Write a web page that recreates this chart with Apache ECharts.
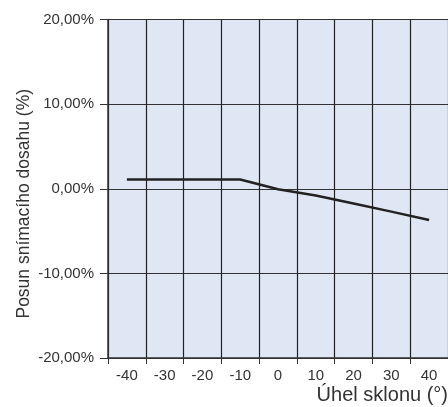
<!DOCTYPE html>
<html>
<head>
<meta charset="utf-8">
<script src="https://cdn.jsdelivr.net/npm/echarts@6/dist/echarts.min.js"></script>
<style>
html,body{margin:0;padding:0;background:#fff;}
#chart{width:448px;height:407px;}
</style>
</head>
<body>
<div id="chart"></div>
<script>
// slope angle categories (deg)
const angles = ['-40', '-30', '-20', '-10', '0', '10', '20', '30', '40']
// shift of sensing distance (%)
const shift = [1.1, 1.1, 1.1, 1.1, -0.05, -0.8, -1.75, -2.7, -3.7]
const yTicks = [-20, -10, 0, 10, 20]

const myChart = echarts.init(document.getElementById('chart'))
const fmt = v => v.toFixed(2).replace('.', ',') + '%'

let option = {
    animation: false,
    textStyle: { fontFamily: 'Liberation Sans' },
    title: {
        text: 'Úhel sklonu (°)',
        right: 0,
        top: 385,
        padding: 0,
        textStyle: { fontSize: 20, fontWeight: 'normal', color: '#333', fontFamily: 'Liberation Sans' }
    },
    grid: { left: 108, right: 0, top: 19.5, bottom: 49, show: true, backgroundColor: '#e0e7f4', borderWidth: 0 },
    xAxis: {
        type: 'category',
        data: angles,
        boundaryGap: true,
        axisLine: { onZero: false, lineStyle: { color: '#333', width: 1.5 } },
        axisTick: { show: true, length: 6, lineStyle: { color: '#333' } },
        axisLabel: { color: '#333', fontSize: 15, margin: 10 },
        splitLine: { show: true, lineStyle: { color: '#222', width: 1.2 } }
    },
    yAxis: {
        type: 'value',
        min: yTicks[0],
        max: yTicks[yTicks.length - 1],
        interval: 10,
        name: 'Posun snímacího dosahu (%)',
        nameLocation: 'middle',
        nameGap: 75,
        nameMoveOverlap: false,
        nameTextStyle: { fontSize: 17.5, color: '#333', padding: [0, 30, 0, 0] },
        axisLine: { show: true, lineStyle: { color: '#333', width: 1.5 } },
        axisTick: { show: true, length: 8, lineStyle: { color: '#333' } },
        axisLabel: { color: '#333', fontSize: 15, margin: 14, formatter: fmt },
        splitLine: { show: true, lineStyle: { color: '#333', width: 1.2 } }
    },
    series: [{
        type: 'line',
        data: shift,
        showSymbol: false,
        lineStyle: { color: '#222', width: 2.5 }
    }]
}
option && myChart.setOption(option)
</script>
</body>
</html>
